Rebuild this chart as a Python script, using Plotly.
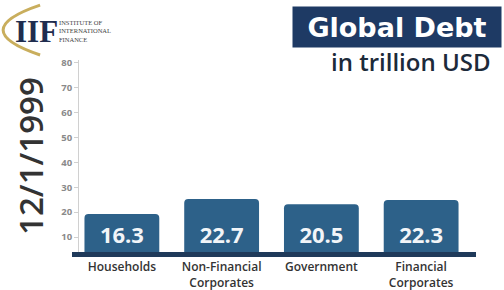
import plotly.graph_objects as go

categories = ["Households", "Non-Financial<br>Corporates", "Government", "Financial<br>Corporates"]
values = [16.3, 22.7, 20.5, 22.3]
value_labels = ["16.3", "22.7", "20.5", "22.3"]
y_ticks = [10, 20, 30, 40, 50, 60, 70, 80]
date_label = "12/1/1999"
title_text = "Global Debt"
subtitle_text = "in trillion USD"

FONT = "Open Sans"
BAR = "#2d6189"
NAVY = "#1e3a64"

fig = go.Figure()
fig.add_trace(go.Bar(
    x=categories, y=values, width=0.75,
    marker=dict(color=BAR, cornerradius=4, line=dict(width=0)),
    text=value_labels, textposition="inside", insidetextanchor="start",
    textangle=0, constraintext="none",
    textfont=dict(family=FONT, size=22, color="#f2f5f8", weight="bold"),
    hoverinfo="skip",
))
# carrier trace so the value axis is drawn
fig.add_trace(go.Scatter(x=[], y=[], yaxis="y2", hoverinfo="skip"))

fig.update_layout(
    width=504, height=290,
    margin=dict(l=72, r=28, t=60, b=38),
    paper_bgcolor="white", plot_bgcolor="white",
    showlegend=False,
    xaxis=dict(
        range=[-0.5, 3.55], showline=True, linewidth=5, linecolor="#1f3a5a",
        ticks="", showgrid=False, zeroline=False, automargin=False,
        tickfont=dict(family=FONT, size=12, color="#333333", weight=600),
    ),
    yaxis=dict(range=[0, 82.4], visible=False, showgrid=False, zeroline=False,
               automargin=False),
    yaxis2=dict(
        overlaying="y", anchor="free", position=0.015, side="left",
        range=[4.0, 81.1], tickvals=y_ticks, showgrid=False, zeroline=False,
        showline=True, linecolor="#d0d0d0", linewidth=1, automargin=False,
        ticks="outside", ticklen=4, tickcolor="#d0d0d0",
        tickfont=dict(family=FONT, size=9.5, color="#8a8a8a", weight="bold"),
    ),
)

# vertical date label
fig.add_annotation(
    text=date_label, xref="paper", yref="paper",
    x=-0.104, y=0.5, xanchor="center", yanchor="middle", showarrow=False,
    textangle=-90, font=dict(family=FONT, size=33, color="#333333", weight=600),
)
# title box
fig.add_annotation(
    text=title_text, xref="paper", yref="paper",
    x=1.064, y=1.172, xanchor="right", yanchor="middle", showarrow=False,
    bgcolor=NAVY, borderpad=0, width=208, height=40, align="center",
    font=dict(family="DejaVu Sans", size=27, color="white", weight="bold"),
)
fig.add_annotation(
    text=subtitle_text, xref="paper", yref="paper",
    x=1.042, y=0.99, xanchor="right", yanchor="middle", showarrow=False,
    font=dict(family=FONT, size=24, color="#1c2a3a", weight=600),
)
# logo
fig.add_annotation(
    text="<b>IIF</b>", xref="paper", yref="paper",
    x=-0.089, y=1.151, xanchor="center", yanchor="middle", showarrow=False,
    font=dict(family="Liberation Serif", size=31, color="#1f2d4f"),
)
fig.add_annotation(
    text="INSTITUTE OF<br>INTERNATIONAL<br>FINANCE", xref="paper", yref="paper",
    x=-0.036, y=1.151, xanchor="left", yanchor="middle", showarrow=False, align="left",
    font=dict(family="Liberation Serif", size=6.5, color="#444444"),
)
fig.add_shape(
    type="path", xref="paper", yref="paper",
    path="M -0.079 1.286 Q -0.262 1.156 -0.079 1.026",
    line=dict(color="#c9ae5d", width=3),
)

fig.write_html("out.html")
